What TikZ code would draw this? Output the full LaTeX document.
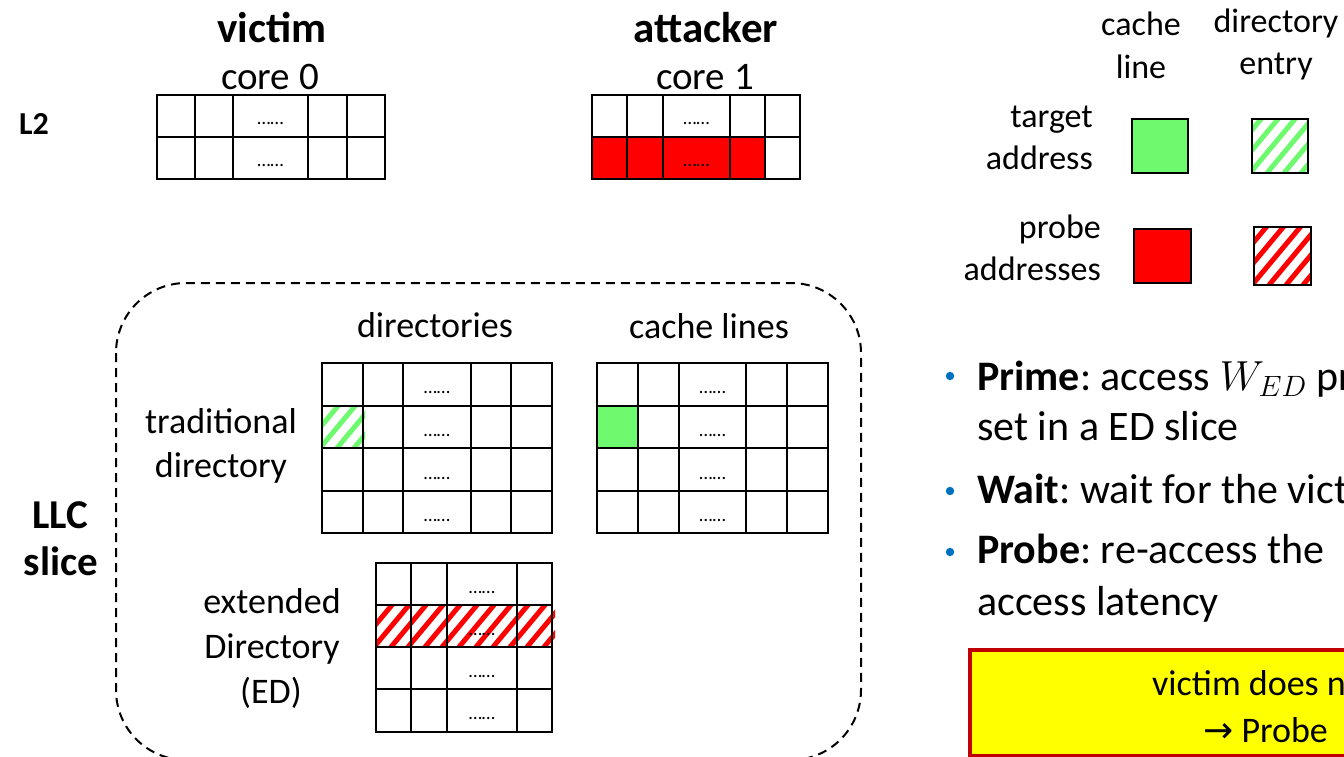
\documentclass[tikz,border=0pt]{standalone}
\usepackage{fix-cm}
\usepackage{fontspec}
\setmainfont{Carlito}
\newfontfamily\arrowfont{DejaVu Sans}
\definecolor{linegreen}{RGB}{110,250,110}
\definecolor{probered}{RGB}{255,0,0}
\definecolor{boxred}{RGB}{192,0,0}
\definecolor{boxyellow}{RGB}{255,255,0}
\definecolor{bulletblue}{RGB}{0,112,192}
\def\fs#1{\fontsize{#1}{#1}\selectfont}
\frenchspacing
\tikzset{
  gridline/.style={line width=2.2pt,black},
  gapdots/.style={font=\fs{19},inner sep=0pt,anchor=base},
  headtext/.style={font=\fs{43}\bfseries,inner sep=0pt,anchor=base},
  celltext/.style={font=\fs{36},inner sep=0pt,anchor=base},
  keytext/.style={font=\fs{34},inner sep=0pt,anchor=base},
  steptext/.style={font=\fs{42},inner sep=0pt,anchor=base west},
  llcbox/.style={dash pattern=on 9pt off 6pt,line width=2pt,rounded corners=70pt},
}
\def\cachegrid#1#2#3#4#5#6#7#8#9{
  % 1: left x    2: right x
  % 3: top y     4: bottom y
  % 5: inner column lines
  % 6: inner row lines
  % 7: x of the dots
  % 8: row centres
  % 9: name prefix
  \foreach \rc [count=\k] in {#8}
    \node[gapdots] (#9\k) at (#7,\rc+9) {……};
  \draw[gridline] (#1,#3) rectangle (#2,#4);
  \foreach \cx in {#5} \draw[gridline] (\cx,#3) -- (\cx,#4);
  \foreach \ry in {#6} \draw[gridline] (#1,\ry) -- (#2,\ry);
}
\def\hatchcell#1#2#3#4#5{
  % 1,2: top left corner
  % 3,4: bottom right corner
  % 5: stripe colour
  \begin{scope}
    \clip (#1,#2) rectangle (#3,#4);
    \foreach \s in {-70,-53,...,200}
      \draw[#5,line width=5pt] (#1+\s,#4) -- ++(60,-72);
  \end{scope}
}

\begin{document}
\begin{tikzpicture}[x=1pt,y=-1pt]
  \useasboundingbox (0,0) rectangle (1344,757);

  % L2 caches
  \node[headtext] (victim) at (272,43) {victim};
  \node[headtext] (attacker) at (706,43) {attacker};
  \node[celltext,font=\fs{39}] (core0) at (270,90) {core 0};
  \node[celltext,font=\fs{39}] (core1) at (705,90) {core 1};
  \node[headtext,font=\fs{32}\bfseries] (l2) at (34,135) {L2};
  \fill[probered] (592,137) rectangle (765,179);
  \cachegrid{157}{385}{95}{179}{195,233,308,347}{137}{270.5}{116,158}{vic}
  \cachegrid{592}{800}{95}{179}{627,663,730,765}{137}{696.5}{116,158}{att}

  % LLC slice
  \draw[llcbox] (116,283) rectangle (861,760);
  \node[headtext,font=\fs{41}\bfseries] (llc) at (60,528) {LLC};
  \node[headtext,font=\fs{41}\bfseries] (slice) at (61,575) {slice};
  \node[celltext] (dirs) at (435,337) {directories};
  \node[celltext] (lines) at (709,338) {cache lines};
  \node[celltext] (trad1) at (221,433) {traditional};
  \node[celltext] (trad2) at (221,477) {directory};
  \node[celltext] (ext1) at (272,613) {extended};
  \node[celltext] (ext2) at (272,658) {Directory};
  \node[celltext] (ext3) at (271,703) {(ED)};
  \hatchcell{322}{406}{365}{448}{linegreen}
  \fill[linegreen] (597,406) rectangle (638,448);
  \hatchcell{376}{605}{555}{647}{probered}
  \cachegrid{322}{552}{363}{533}{363,403,471,511}{406,448,491}{437}{384,427,470,512}{dir}
  \cachegrid{597}{828}{363}{533}{638,679,746,787}{406,448,491}{712.5}{384,427,470,512}{cl}
  \cachegrid{376}{552}{563}{732}{411,447,517}{605,647,689}{482}{584,626,668,710}{ed}

  % legend
  \node[keytext] (kcache) at (1141,36) {cache};
  \node[keytext] (kline) at (1141,79) {line};
  \node[keytext] (kdir) at (1276,33) {directory};
  \node[keytext] (kentry) at (1276,75) {entry};
  \node[keytext,anchor=base east] (ktarget) at (1093,128) {target};
  \node[keytext,anchor=base east] (kaddr) at (1093,170) {address};
  \node[keytext,anchor=base east] (kprobe) at (1101,238) {probe};
  \node[keytext,anchor=base east] (kaddrs) at (1101,280) {addresses};
  \filldraw[gridline,fill=linegreen] (1132,119) rectangle (1188,173);
  \hatchcell{1252}{119}{1308}{173}{linegreen}
  \draw[gridline] (1252,119) rectangle (1308,173);
  \filldraw[gridline,fill=probered] (1134,229) rectangle (1191,283);
  \hatchcell{1254}{227}{1311}{285}{probered}
  \draw[gridline] (1254,227) rectangle (1311,285);

  % steps
  \foreach \by in {376,491,552} \fill[bulletblue] (950,\by) circle (4.2);
  \node[steptext] (prime) at (977,390) {\textbf{Prime}: access $W_{ED}$ pr};
  \node[steptext] (prime2) at (977,440) {set in a ED slice};
  \node[steptext] (wait) at (977,503) {\textbf{Wait}: wait for the vict};
  \node[steptext] (probe) at (977,563) {\textbf{Probe}: re-access the};
  \node[steptext] (probe2) at (977,615) {access latency};

  % result box
  \filldraw[fill=boxyellow,draw=boxred,line width=4.5pt] (970,650) rectangle (1400,756);
  \node[celltext,anchor=base west] (res1) at (1152,695) {victim does n};
  \node[celltext,anchor=base west] (res2) at (1203,742) {{\arrowfont →} Probe};
\end{tikzpicture}
\end{document}
